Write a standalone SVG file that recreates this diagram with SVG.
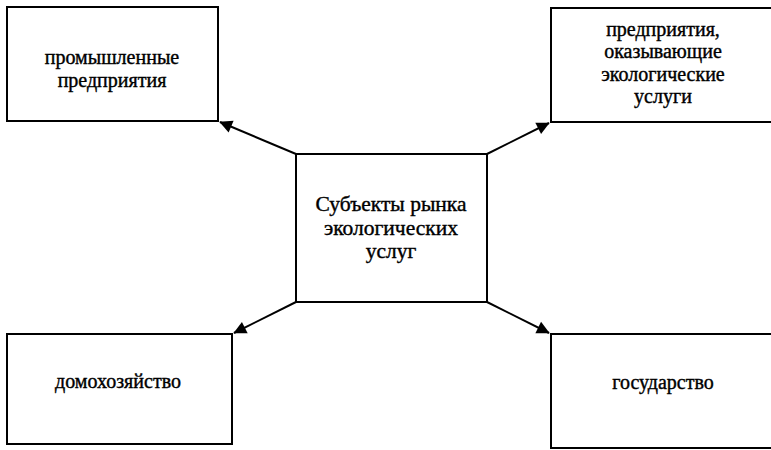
<svg xmlns="http://www.w3.org/2000/svg" width="771" height="450" viewBox="0 0 771 450">
<defs>
<style>
.box{fill:#fff;stroke:#000;stroke-width:2}
.t{font-family:'Liberation Serif','DejaVu Serif',serif;font-size:20px;fill:#000;stroke:#000;stroke-width:0.4;text-anchor:middle}
.tc{font-family:'Liberation Serif','DejaVu Serif',serif;font-size:21.5px;fill:#000;stroke:#000;stroke-width:0.4;text-anchor:middle}
.c{stroke:#000;stroke-width:2;fill:none;marker-end:url(#ah)}
</style>
<marker id="ah" viewBox="0 0 10 10" refX="9" refY="5" markerWidth="8" markerHeight="8" markerUnits="userSpaceOnUse" orient="auto" overflow="visible">
<path d="M0,0 L10,5 L0,10 z" fill="#000" transform="scale(1.6) translate(-3.8,-1.9)"/>
</marker>
</defs>
<rect width="771" height="450" fill="#fff"/>
<g id="connectors">
<line class="c" x1="296" y1="154" x2="220" y2="122"/>
<line class="c" x1="487" y1="154" x2="549" y2="123"/>
<line class="c" x1="296" y1="302" x2="234" y2="333"/>
<line class="c" x1="487" y1="302" x2="549" y2="333"/>
</g>
<g id="center">
<rect class="box" x="296" y="154" width="191" height="148"/>
<text class="tc" x="391" y="211">Субъекты рынка</text>
<text class="tc" x="391" y="235">экологических</text>
<text class="tc" x="391" y="258">услуг</text>
</g>
<g id="industrial">
<rect class="box" x="7" y="7" width="211" height="114"/>
<text class="t" x="112" y="64">промышленные</text>
<text class="t" x="112" y="87">предприятия</text>
</g>
<g id="ecoservices">
<rect class="box" x="551" y="8" width="225" height="114"/>
<text class="t" x="663" y="36">предприятия,</text>
<text class="t" x="663" y="58">оказывающие</text>
<text class="t" x="663" y="81">экологические</text>
<text class="t" x="663" y="103">услуги</text>
</g>
<g id="household">
<rect class="box" x="7" y="334" width="225" height="110"/>
<text class="t" x="118" y="388">домохозяйство</text>
</g>
<g id="state">
<rect class="box" x="551" y="334" width="225" height="114"/>
<text class="t" x="663" y="389">государство</text>
</g>
</svg>
